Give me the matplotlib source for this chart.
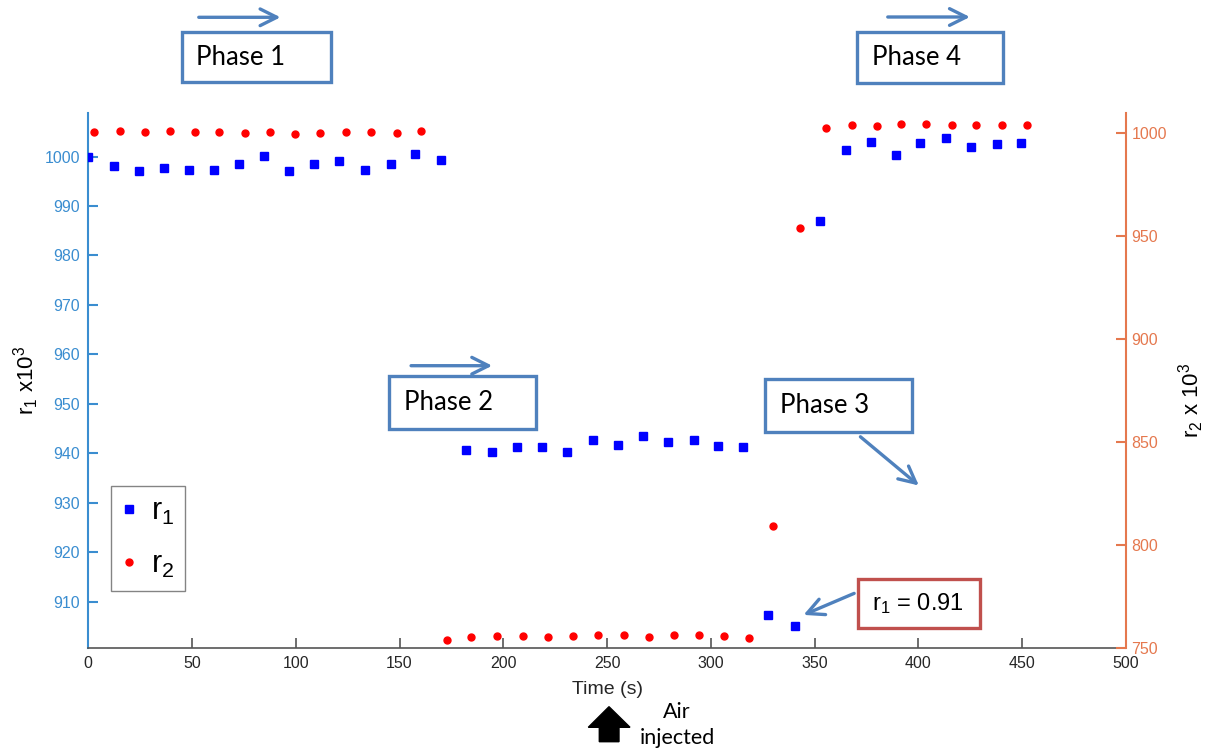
import matplotlib
matplotlib.use("Agg")
import matplotlib.pyplot as plt
from matplotlib import font_manager as fm
from matplotlib.patches import Rectangle, FancyArrowPatch, Polygon
from matplotlib.lines import Line2D

# avoid the narrow variant being picked for "Liberation Sans"
fm.fontManager.ttflist = [f for f in fm.fontManager.ttflist if 'Narrow' not in f.fname]

plt.rcParams['font.family'] = ['Liberation Sans', 'DejaVu Sans']
plt.rcParams['mathtext.fontset'] = 'custom'
plt.rcParams['mathtext.rm'] = 'Liberation Sans'
plt.rcParams['mathtext.it'] = 'Liberation Sans'
plt.rcParams['mathtext.default'] = 'regular'

# ---- data ----
t_r1 = [0, 12.5, 24.6, 36.6, 48.7, 60.7, 72.8, 84.8, 96.9, 108.9, 121, 133.5, 145.9, 157.6, 170,
        181.9, 194.4, 206.5, 218.8, 230.7, 243.2, 255.4, 267.5, 279.4, 291.9, 303.6, 315.7,
        327.7, 340.6,
        352.6, 365, 377.2, 389.4, 401, 413.5, 425.4, 437.8, 449.5]
r1 = [1000.0, 998.0, 997.0, 997.7, 997.2, 997.3, 998.5, 1000.1, 997.0, 998.4, 999.0, 997.3, 998.5, 1000.6, 999.3,
      940.7, 940.2, 941.3, 941.3, 940.2, 942.6, 941.7, 943.4, 942.2, 942.6, 941.5, 941.2,
      907.3, 905.1,
      987.0, 1001.4, 1003.0, 1000.4, 1002.8, 1003.8, 1002.0, 1002.6, 1002.8]

t_r2 = [2.9, 15.3, 27.3, 39.4, 51.6, 63.2, 75.7, 87.6, 99.8, 111.7, 124, 136.2, 148.6, 160.3,
        173, 184.6, 197.1, 209.6, 221.5, 233.4, 245.8, 258.2, 270.4, 282.3, 294.5, 306.4, 318.4,
        330, 343,
        355.7, 367.9, 380, 391.8, 403.7, 416.2, 428, 440.5, 452.2]
r2 = [1000.2, 1000.8, 1000.2, 1000.8, 1000.2, 1000.2, 999.9, 1000.5, 999.5, 999.9, 1000.5, 1000.5, 999.9, 1000.8,
      753.9, 755.5, 755.8, 755.8, 755.2, 755.8, 756.1, 756.1, 755.5, 756.1, 756.1, 755.8, 754.7,
      809.0, 953.9,
      1002.1, 1003.6, 1003.3, 1004.2, 1004.5, 1004.0, 1004.0, 1004.0, 1003.6]

x_ticks = list(range(0, 501, 50))
r1_ticks = list(range(910, 1001, 10))
r2_ticks = list(range(750, 1001, 50))

W, H = 1210, 752
LEFT_C = '#3a8dd0'
RIGHT_C = '#e5784e'
BOX_C = '#4f81bd'

fig = plt.figure(figsize=(W / 100, H / 100), dpi=100)
ax = fig.add_axes([88.3 / W, 1 - 648 / H, (1125.8 - 88.3) / W, (648 - 113) / H])
ax2 = ax.twinx()

ax.plot(t_r1, r1, 's', color='#0000ff', markersize=6.3, linestyle='none', label='r$_1$', zorder=3)
ax2.plot(t_r2, r2, 'o', color='#ff0000', markersize=5, linestyle='none', label='r$_2$', zorder=3)

ax.set_xlim(0, 500)
ax.set_ylim(900.6, 1008.8)
ax2.set_ylim(750, 1009.6)
ax.set_xticks(x_ticks)
ax.set_yticks(r1_ticks)
ax2.set_yticks(r2_ticks)

for a in (ax, ax2):
    a.spines['top'].set_visible(False)
ax.spines['right'].set_visible(False)
ax2.spines['left'].set_visible(False)
ax2.spines['bottom'].set_visible(False)
ax.spines['left'].set_color(LEFT_C)
ax.spines['left'].set_linewidth(1.5)
ax.spines['bottom'].set_color('#555555')
ax.spines['bottom'].set_linewidth(1.2)
ax2.spines['right'].set_color(RIGHT_C)
ax2.spines['right'].set_linewidth(1.5)

ax.tick_params(axis='x', direction='in', length=7.5, width=1.2, color='#555555',
               labelsize=11.5, labelcolor='#262626', pad=6)
ax.tick_params(axis='y', direction='in', length=7.5, width=1.5, color=LEFT_C,
               labelsize=11.5, labelcolor=LEFT_C, pad=6)
ax2.tick_params(axis='y', direction='in', length=7.5, width=1.5, color=RIGHT_C,
                labelsize=11.5, labelcolor=RIGHT_C, pad=4)

ax.set_xlabel('Time (s)', fontsize=14, color='#262626')
ax.xaxis.set_label_coords(0.5, -0.062)
ax.set_ylabel('r$_1$ x10$^3$', fontsize=16, color='black')
ax.yaxis.set_label_coords(-0.0455, 0.5)
ax2.set_ylabel('r$_2$ x 10$^3$', fontsize=16, color='black', rotation=90)
ax2.yaxis.set_label_coords(1.049, 0.4636)

# legend
h1 = Line2D([], [], marker='s', color='#0000ff', linestyle='none', markersize=6.3)
h2 = Line2D([], [], marker='o', color='#ff0000', linestyle='none', markersize=5)
leg = fig.legend([h1, h2], ['r$_1$', 'r$_2$'], loc='upper left',
                 bbox_to_anchor=(111 / W, 1 - 486 / H), bbox_transform=fig.transFigure,
                 fontsize=22, frameon=True, fancybox=False, handlelength=0.5,
                 handletextpad=0.45, borderpad=0.35, labelspacing=0.75, borderaxespad=0)
leg.get_frame().set_edgecolor('#666666')
leg.get_frame().set_linewidth(1.0)


def fx(x):
    return x / W


def fy(y):
    return 1 - y / H


def box(x0, y0, x1, y1, text, tx, edge=BOX_C, math=False):
    r = Rectangle((fx(x0), fy(y1)), fx(x1) - fx(x0), fy(y0) - fy(y1), transform=fig.transFigure,
                  facecolor='white', edgecolor=edge, linewidth=2.4, zorder=5)
    fig.patches.append(r)
    fam = ['Liberation Sans'] if math else ['Lato', 'DejaVu Sans']
    size = 17 if math else 18.5
    fig.text(fx(tx), fy((y0 + y1) / 2), text, ha='left', va='center', fontsize=size,
             family=fam, color='black', zorder=6)


def arrow(x0, y0, x1, y1):
    a = FancyArrowPatch((fx(x0), fy(y0)), (fx(x1), fy(y1)), transform=fig.transFigure,
                        arrowstyle='->,head_length=8,head_width=4', color=BOX_C, linewidth=2.4,
                        mutation_scale=1.5, zorder=6)
    fig.patches.append(a)


box(181.7, 32.3, 331, 82.3, 'Phase 1', 196)
arrow(196, 17.3, 283.3, 17.3)
box(857.3, 32.3, 1003.3, 83.3, 'Phase 4', 872)
arrow(885, 17, 972.7, 17)
box(389.3, 375.7, 536, 429.3, 'Phase 2', 404)
arrow(408.3, 365.7, 495, 365.7)
box(765, 379.3, 911.7, 431.7, 'Phase 3', 780)
arrow(858.3, 435, 921, 487.3)
box(857.7, 579.3, 980, 628.3, 'r$_1$ = 0.91', 872, edge='#c0504d', math=True)
arrow(856.7, 592.3, 801, 616)

# Air injected block arrow
pts = [(609, 706.7), (588.3, 727.3), (599.3, 727.3), (599.3, 741.7), (619, 741.7), (619, 727.3), (630, 727.3)]
fig.patches.append(Polygon([(fx(x), fy(y)) for x, y in pts], closed=True, transform=fig.transFigure,
                           facecolor='black', edgecolor='black'))
fig.text(fx(677), fy(711.7), 'Air', ha='center', va='center', fontsize=15.5,
         family=['Lato', 'DejaVu Sans'])
fig.text(fx(677), fy(738), 'injected', ha='center', va='center', fontsize=15.5,
         family=['Lato', 'DejaVu Sans'])

fig.savefig('out.png', dpi=100)
